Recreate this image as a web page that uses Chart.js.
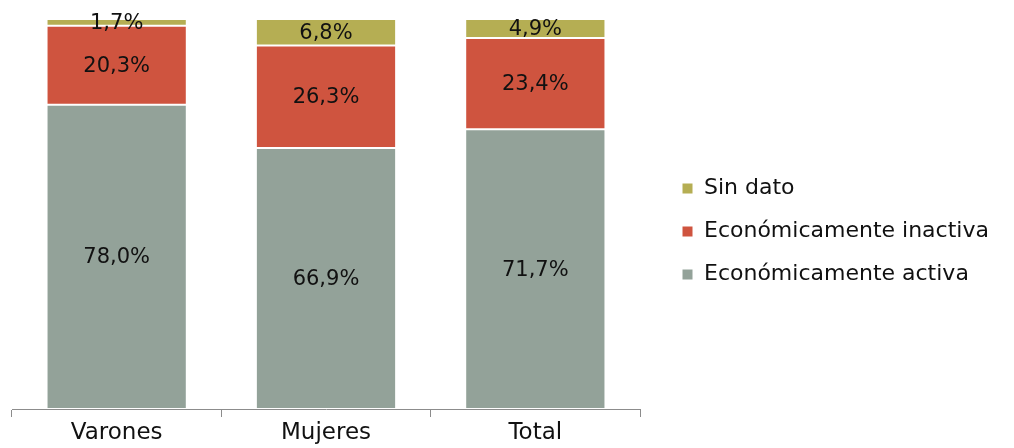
<!DOCTYPE html>
<html lang="es">
  <head>
    <meta charset="utf-8" />
    <title>Condición de actividad</title>
    <style>
      html, body { margin: 0; padding: 0; background: #ffffff; overflow: hidden; }
      #wrap { position: relative; width: 1014px; height: 448px; }
    </style>
  </head>
  <body>
    <div id="wrap"><canvas id="chart"></canvas></div>
    <script src="https://cdn.jsdelivr.net/npm/chart.js@4"></script>
    <script>
      // valores (porcentajes)
      let categorias = ["Varones", "Mujeres", "Total"];
      let activa = [78.0, 66.9, 71.7];
      let inactiva = [20.3, 26.3, 23.4];
      let sinDato = [1.7, 6.8, 4.9];

      let colores = {
        activa: "#93a299",
        inactiva: "#cf543f",
        sinDato: "#b5ae53",
      };

      let fuente = "'DejaVu Sans', sans-serif";

      // etiquetas de valor centradas en cada tramo
      let etiquetas = {
        id: "etiquetas",
        afterDatasetsDraw(chart) {
          let ctx = chart.ctx;
          ctx.save();
          ctx.font = "21px " + fuente;
          ctx.fillStyle = "#111111";
          ctx.textAlign = "center";
          ctx.textBaseline = "middle";
          chart.data.datasets.forEach(function (ds, i) {
            let meta = chart.getDatasetMeta(i);
            meta.data.forEach(function (bar, j) {
              let p = bar.getProps(["x", "y", "base"], true);
              let texto = ds.data[j].toFixed(1).replace(".", ",") + "%";
              ctx.fillText(texto, p.x, (p.y + p.base) / 2 + 1);
            });
          });
          ctx.restore();
        },
      };

      // leyenda de ancho fijo, con hueco a su izquierda
      let huecoLeyenda = {
        id: "huecoLeyenda",
        beforeInit(chart) {
          let ancho = 374;
          let extra = 21;
          let legend = chart.legend;
          let fit = legend.fit;
          legend.fit = function () {
            fit.call(this);
            this.width = ancho;
          };
          let draw = legend._draw;
          legend._draw = function () {
            let left = this.left, top = this.top;
            this.left += extra;
            this.top -= 4;
            draw.call(this);
            this.left = left;
            this.top = top;
          };
        },
      };

      new Chart(document.getElementById("chart"), {
        type: "bar",
        data: {
          labels: categorias,
          datasets: [
            { label: "Económicamente activa", data: activa, backgroundColor: colores.activa },
            { label: "Económicamente inactiva", data: inactiva, backgroundColor: colores.inactiva },
            { label: "Sin dato", data: sinDato, backgroundColor: colores.sinDato },
          ],
        },
        options: {
          responsive: true,
          maintainAspectRatio: false,
          animation: false,
          layout: { padding: { top: 19, left: 12, right: 0, bottom: 0 } },
          datasets: {
            bar: {
              categoryPercentage: 1,
              barPercentage: 0.67,
              borderWidth: 1,
              borderColor: "#ffffff",
              borderSkipped: false,
            },
          },
          scales: {
            x: {
              stacked: true,
              grid: {
                display: true,
                drawOnChartArea: false,
                drawTicks: true,
                tickLength: 8,
                color: "#8c8c8c",
              },
              border: { display: true, color: "#8c8c8c", width: 1 },
              ticks: {
                color: "#111111",
                padding: 2,
                font: { family: fuente, size: 23 },
              },
              afterFit: function (s) {
                s.height = 39;
              },
            },
            y: {
              stacked: true,
              display: false,
              min: 0,
              max: 100,
            },
          },
          plugins: {
            tooltip: { enabled: false },
            legend: {
              position: "right",
              reverse: true,
              labels: {
                boxWidth: 11,
                boxHeight: 11,
                padding: 21,
                color: "#111111",
                font: { family: fuente, size: 22 },
              },
            },
          },
        },
        plugins: [etiquetas, huecoLeyenda],
      });
    </script>
  </body>
</html>
